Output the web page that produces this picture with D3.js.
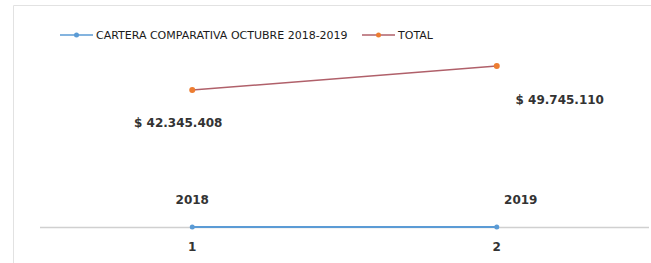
<!doctype html>
<meta charset="utf-8">
<head>
<script src="https://d3js.org/d3.v7.min.js"></script>
<style>
  body { margin: 0; background: #fff; }
  text { font-family: "DejaVu Sans", sans-serif; }
</style>
</head>
<body>
<svg width="651" height="263"></svg>
<script>
    // data
    let categories = [1, 2];
    let years = [2018, 2019];
    let totals = [42345408, 49745110];
    let totalLabels = ["$ 42.345.408", "$ 49.745.110"];
    let seriesNames = ["CARTERA COMPARATIVA OCTUBRE 2018-2019", "TOTAL"];

    let svg = d3.select("svg");
    let blue = "#5b9bd5";
    let orange = "#ed7d31";
    let redLine = "#b0606a";

    // chart frame
    svg.append("path")
        .attr("d", "M13.5 263 L13.5 5.5 L651 5.5")
        .attr("fill", "none")
        .attr("stroke", "#e2e2e2");

    let x = d3.scaleBand().domain(categories).range([40, 649]);
    let y = d3.scaleLinear().domain([0, 42345408]).range([227, 90]);
    let cx = (d) => x(d) + x.bandwidth() / 2;

    // category axis
    svg.append("line")
        .attr("x1", 40).attr("x2", 649)
        .attr("y1", 227.5).attr("y2", 227.5)
        .attr("stroke", "#d0d0d0")
        .attr("stroke-width", 1.5);

    svg.selectAll(".cat")
        .data(categories)
        .enter().append("text")
        .attr("class", "cat")
        .attr("x", cx)
        .attr("y", 251)
        .attr("text-anchor", "middle")
        .attr("font-size", 12)
        .attr("font-weight", "bold")
        .attr("fill", "#333")
        .text((d) => d);

    // blue series (years)
    let line = d3.line()
        .x((d, i) => cx(categories[i]))
        .y((d) => y(d));

    svg.append("path")
        .datum(years)
        .attr("fill", "none")
        .attr("stroke", blue)
        .attr("stroke-width", 2)
        .attr("d", line);

    svg.selectAll(".bpt")
        .data(years)
        .enter().append("circle")
        .attr("cx", (d, i) => cx(categories[i]))
        .attr("cy", (d) => y(d))
        .attr("r", 2.5)
        .attr("fill", blue);

    let yearDx = [0, 24];
    svg.selectAll(".ylab")
        .data(years)
        .enter().append("text")
        .attr("x", (d, i) => cx(categories[i]) + yearDx[i])
        .attr("y", 204)
        .attr("text-anchor", "middle")
        .attr("font-size", 12)
        .attr("font-weight", "bold")
        .attr("fill", "#333")
        .text((d) => d);

    // total series
    svg.append("path")
        .datum(totals)
        .attr("fill", "none")
        .attr("stroke", redLine)
        .attr("stroke-width", 1.5)
        .attr("d", line);

    svg.selectAll(".opt")
        .data(totals)
        .enter().append("circle")
        .attr("cx", (d, i) => cx(categories[i]))
        .attr("cy", (d) => y(d))
        .attr("r", 3)
        .attr("fill", orange);

    let totDx = [-14, 63];
    let totDy = [37, 38];
    svg.selectAll(".tlab")
        .data(totals)
        .enter().append("text")
        .attr("x", (d, i) => cx(categories[i]) + totDx[i])
        .attr("y", (d, i) => y(d) + totDy[i])
        .attr("text-anchor", "middle")
        .attr("font-size", 12)
        .attr("font-weight", "bold")
        .attr("fill", "#333")
        .text((d, i) => totalLabels[i]);

    // legend
    let legend = [
        { name: seriesNames[0], x: 60, color: blue, line: blue },
        { name: seriesNames[1], x: 362, color: orange, line: redLine }
    ];
    let lg = svg.selectAll(".leg")
        .data(legend)
        .enter().append("g")
        .attr("transform", (d) => "translate(" + d.x + ",35)");
    lg.append("line")
        .attr("x1", 0).attr("x2", 33)
        .attr("stroke", (d) => d.line)
        .attr("stroke-width", 1.5);
    lg.append("circle")
        .attr("cx", 16.5)
        .attr("r", 2.5)
        .attr("fill", (d) => d.color);
    lg.append("text")
        .attr("x", 36)
        .attr("y", 4)
        .attr("font-size", 11)
        .attr("fill", "#1a1a1a")
        .text((d) => d.name);
</script>
</body>
